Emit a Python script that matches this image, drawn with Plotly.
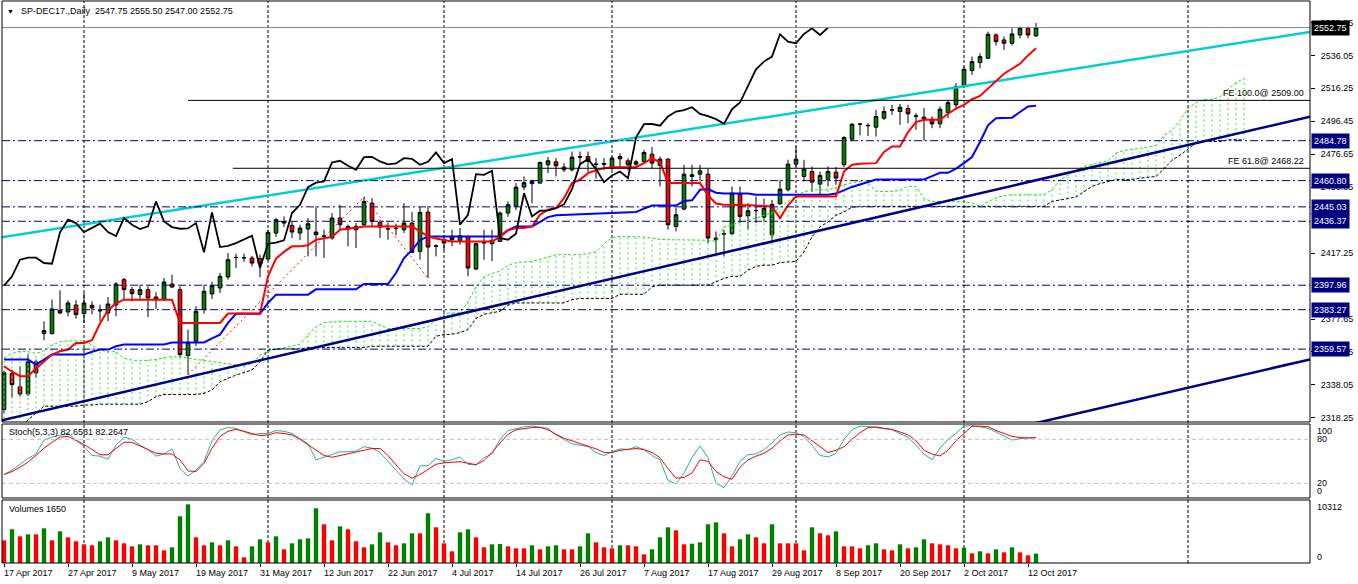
import plotly.graph_objects as go
import pandas as pd

# ---------------- data ----------------
dates = pd.bdate_range("2017-04-17", periods=130)

opens = [2323.3, 2344.9, 2336.9, 2332.7, 2351.9, 2368.9, 2368.9, 2382.9, 2381.9, 2386.1,
         2380.9, 2385.9, 2382.9, 2381.3, 2386.1, 2401.3, 2395.3, 2392.3, 2395.3, 2390.9,
         2389.3, 2398.7, 2395.3, 2355.7, 2364.3, 2383.3, 2392.7, 2396.3, 2402.9, 2414.7,
         2414.3, 2414.3, 2413.9, 2413.7, 2429.3, 2436.3, 2433.9, 2429.3, 2431.7, 2428.3,
         2427.3, 2426.3, 2438.3, 2433.3, 2431.3, 2434.3, 2447.3, 2435.7, 2431.7, 2432.0,
         2431.3, 2435.3, 2418.3, 2441.9, 2421.3, 2425.5, 2427.3, 2424.9, 2427.3, 2407.7,
         2423.3, 2422.9, 2424.3, 2441.3, 2445.3, 2456.9, 2459.0, 2459.3, 2470.3, 2472.1,
         2468.9, 2467.3, 2474.9, 2475.3, 2470.7, 2470.5, 2468.3, 2475.3, 2472.7, 2470.7,
         2472.3, 2476.7, 2469.9, 2473.7, 2433.3, 2443.7, 2463.3, 2464.7, 2464.7, 2426.3,
         2428.7, 2428.9, 2452.7, 2439.7, 2442.7, 2438.9, 2428.3, 2446.9, 2455.3, 2470.7,
         2463.3, 2466.3, 2458.7, 2461.3, 2465.9, 2470.3, 2485.7, 2494.7, 2494.0, 2492.9,
         2498.3, 2503.3, 2502.3, 2504.1, 2499.7, 2498.9, 2497.7, 2494.9, 2501.7, 2506.3,
         2517.3, 2526.9, 2531.7, 2534.3, 2548.3, 2545.3, 2543.3, 2548.3, 2552.3, 2547.75]
highs = [2346.7, 2347.3, 2349.3, 2356.3, 2353.3, 2376.3, 2389.3, 2394.9, 2388.9, 2388.9,
         2393.3, 2388.3, 2386.3, 2390.9, 2399.9, 2402.3, 2396.9, 2398.3, 2397.3, 2393.7,
         2402.3, 2404.3, 2397.3, 2371.3, 2385.3, 2398.3, 2400.0, 2405.3, 2417.3, 2416.9,
         2417.0, 2415.5, 2416.3, 2431.3, 2438.3, 2439.3, 2436.3, 2434.3, 2438.3, 2445.3,
         2431.3, 2441.3, 2446.3, 2434.3, 2435.3, 2451.0, 2450.3, 2437.3, 2435.7, 2434.9,
         2447.3, 2442.0, 2445.0, 2445.5, 2422.5, 2428.0, 2431.3, 2432.3, 2428.0, 2423.5,
         2431.3, 2431.3, 2442.3, 2448.3, 2459.3, 2463.3, 2461.3, 2472.3, 2475.0, 2474.3,
         2471.3, 2478.3, 2478.3, 2478.3, 2474.3, 2474.3, 2475.3, 2477.3, 2474.3, 2473.3,
         2479.3, 2481.0, 2475.3, 2474.3, 2444.3, 2470.3, 2470.3, 2470.3, 2467.9, 2430.3,
         2431.3, 2457.3, 2457.3, 2447.3, 2451.3, 2450.0, 2449.3, 2461.3, 2473.3, 2481.3,
         2473.3, 2469.3, 2466.3, 2469.3, 2469.0, 2487.5, 2495.3, 2495.3, 2495.3, 2503.3,
         2505.3, 2506.3, 2506.9, 2506.3, 2501.3, 2504.3, 2499.3, 2505.3, 2509.3, 2519.3,
         2529.3, 2535.3, 2537.3, 2550.3, 2549.3, 2547.3, 2552.3, 2553.3, 2553.3, 2555.50]
lows = [2320.9, 2330.5, 2331.3, 2331.3, 2342.5, 2364.9, 2368.3, 2380.5, 2379.3, 2377.9,
        2375.3, 2380.5, 2376.3, 2376.3, 2379.3, 2389.3, 2388.3, 2389.3, 2378.9, 2383.7,
        2388.7, 2396.3, 2354.5, 2344.3, 2361.3, 2381.0, 2389.7, 2393.3, 2401.3, 2408.3,
        2412.0, 2409.3, 2402.7, 2412.9, 2427.0, 2432.9, 2426.3, 2425.0, 2415.3, 2415.3,
        2414.3, 2425.3, 2431.3, 2421.3, 2420.3, 2433.3, 2433.3, 2426.3, 2425.3, 2428.0,
        2429.3, 2417.3, 2413.3, 2402.3, 2415.3, 2419.0, 2421.3, 2422.3, 2403.3, 2407.0,
        2413.3, 2412.5, 2424.0, 2439.0, 2443.0, 2455.0, 2447.3, 2459.0, 2465.3, 2463.3,
        2466.0, 2466.3, 2470.0, 2466.0, 2462.0, 2467.0, 2467.3, 2468.3, 2467.0, 2469.0,
        2471.3, 2468.0, 2457.3, 2431.3, 2430.3, 2443.0, 2457.3, 2460.3, 2423.3, 2417.3,
        2415.3, 2428.3, 2435.3, 2431.3, 2435.3, 2436.0, 2424.3, 2446.3, 2454.3, 2469.3,
        2460.3, 2454.0, 2452.3, 2457.3, 2458.3, 2469.0, 2484.5, 2488.0, 2487.5, 2487.3,
        2497.3, 2500.3, 2494.3, 2495.3, 2491.3, 2484.8, 2492.3, 2492.3, 2498.3, 2503.3,
        2516.7, 2524.3, 2528.3, 2533.9, 2541.9, 2539.3, 2542.0, 2546.3, 2546.3, 2547.00]
closes = [2345.5, 2338.3, 2332.7, 2351.9, 2345.3, 2370.7, 2383.7, 2381.3, 2387.3, 2380.3,
          2387.3, 2384.3, 2382.6, 2386.7, 2398.7, 2395.3, 2392.9, 2395.3, 2390.3, 2389.3,
          2399.9, 2396.9, 2356.3, 2363.7, 2382.3, 2394.3, 2397.7, 2403.3, 2413.3, 2414.6,
          2414.5, 2411.3, 2410.9, 2429.7, 2437.3, 2435.3, 2429.9, 2432.3, 2434.9, 2429.9,
          2427.5, 2438.3, 2434.3, 2431.7, 2433.3, 2448.3, 2436.3, 2432.9, 2431.9, 2432.1,
          2435.3, 2417.7, 2441.7, 2420.9, 2421.6, 2423.3, 2425.3, 2427.7, 2408.3, 2422.9,
          2423.6, 2424.9, 2441.3, 2446.3, 2456.9, 2459.6, 2460.3, 2471.7, 2472.7, 2469.7,
          2467.3, 2474.9, 2475.1, 2472.3, 2470.6, 2471.1, 2474.3, 2473.9, 2470.3, 2472.1,
          2477.7, 2471.3, 2473.7, 2434.3, 2440.3, 2464.7, 2464.3, 2466.7, 2426.3, 2425.3,
          2428.9, 2453.3, 2439.3, 2442.7, 2442.9, 2444.3, 2446.5, 2455.7, 2470.7, 2473.7,
          2467.7, 2459.9, 2463.9, 2466.3, 2462.3, 2486.7, 2494.7, 2494.8, 2493.8, 2499.3,
          2502.3, 2503.2, 2504.9, 2500.9, 2499.5, 2497.7, 2494.9, 2503.7, 2507.7, 2517.3,
          2527.7, 2532.3, 2535.3, 2548.7, 2544.3, 2543.3, 2548.9, 2552.3, 2548.3, 2552.75]
volumes = [3985, 5919, 4688, 5040, 5040, 6094, 3985, 5567, 4512, 3809,
           3282, 3106, 3809, 4512, 3985, 3457, 2930, 3282, 3106, 3106,
           2227, 2754, 8204, 10312, 4512, 3106, 3633, 3106, 3985, 2930,
           996, 2930, 4161, 3633, 4688, 2403, 3457, 4161, 4336, 9610,
           6798, 3985, 6446, 5919, 3809, 2754, 3282, 5391, 3633, 3106,
           3457, 5215, 5215, 8731, 6270, 3457, 2051, 5391, 5919, 4512,
           2754, 3282, 3340, 2930, 2578, 2578, 3106, 2403, 2930, 3106,
           2403, 2403, 2930, 5215, 3633, 2754, 2578, 3106, 3106, 2930,
           1524, 2403, 4512, 6270, 5743, 3282, 3399, 3633, 6798, 7149,
           5215, 2930, 4161, 5040, 4512, 3457, 6798, 3457, 3457, 3457,
           2227, 6270, 5215, 4864, 5567, 2930, 2930, 2578, 3106, 3457,
           2403, 2227, 3282, 2578, 2754, 4161, 3457, 3282, 3106, 2578,
           2696, 1699, 2051, 1699, 2403, 1875, 2754, 1875, 1348, 1650]

tenkan = [2349.3, 2346.0, 2343.3, 2343.3, 2348.0, 2352.0, 2356.3, 2358.3, 2359.3, 2363.3,
          2363.3, 2365.0, 2375.0, 2383.0, 2387.0, 2389.3, 2389.3, 2389.3, 2389.3, 2389.3,
          2389.3, 2389.3, 2375.3, 2375.3, 2375.3, 2375.3, 2375.3, 2375.3, 2380.9, 2380.9,
          2380.9, 2380.9, 2380.9, 2403.3, 2414.0, 2418.0, 2421.3, 2421.3, 2422.0, 2425.3,
          2426.0, 2427.0, 2431.3, 2431.8, 2432.5, 2433.3, 2433.3, 2433.3, 2433.3, 2433.3,
          2433.3, 2433.3, 2430.3, 2427.3, 2426.0, 2425.3, 2424.3, 2424.3, 2424.3, 2424.3,
          2424.3, 2424.3, 2427.0, 2431.0, 2432.3, 2432.3, 2433.3, 2440.3, 2443.3, 2444.3,
          2450.3, 2459.3, 2461.3, 2465.3, 2467.0, 2468.3, 2468.9, 2468.9, 2468.9, 2468.9,
          2471.3, 2474.1, 2472.0, 2459.3, 2459.3, 2459.3, 2459.3, 2459.3, 2452.0, 2447.0,
          2446.3, 2446.3, 2446.0, 2446.0, 2445.8, 2445.6, 2445.3, 2438.3, 2446.0, 2451.3,
          2451.3, 2451.3, 2451.3, 2451.3, 2451.3, 2466.3, 2470.3, 2471.0, 2471.0, 2471.3,
          2478.0, 2481.3, 2481.3, 2490.0, 2496.0, 2497.3, 2497.3, 2497.3, 2501.0, 2504.0,
          2506.3, 2509.7, 2511.7, 2516.3, 2521.0, 2525.0, 2528.0, 2531.0, 2536.0, 2540.3]
kijun = [2353.3, 2353.3, 2353.3, 2353.3, 2350.3, 2353.3, 2356.3, 2356.3, 2356.3, 2356.3,
         2356.3, 2358.0, 2359.3, 2359.3, 2361.3, 2362.3, 2362.3, 2362.3, 2362.3, 2362.3,
         2362.3, 2363.6, 2363.6, 2363.6, 2363.6, 2363.6, 2366.0, 2368.3, 2375.3, 2380.8,
         2380.8, 2380.8, 2380.8, 2387.3, 2392.3, 2392.3, 2392.3, 2392.3, 2392.3, 2395.5,
         2395.5, 2395.5, 2395.5, 2395.5, 2395.5, 2398.7, 2398.7, 2398.7, 2398.7, 2405.3,
         2414.3, 2419.0, 2425.0, 2427.3, 2427.3, 2427.3, 2427.3, 2427.3, 2427.3, 2427.3,
         2427.3, 2427.3, 2427.3, 2431.0, 2433.3, 2433.3, 2433.3, 2436.0, 2438.9, 2440.0,
         2440.2, 2440.4, 2440.6, 2440.8, 2441.0, 2441.2, 2441.4, 2441.6, 2441.8, 2442.0,
         2444.0, 2445.8, 2445.8, 2445.8, 2445.8, 2448.5, 2449.0, 2455.3, 2455.7, 2453.5,
         2453.0, 2453.0, 2453.0, 2453.0, 2452.3, 2452.3, 2452.3, 2452.3, 2452.3, 2452.3,
         2452.3, 2452.3, 2452.3, 2452.3, 2453.0, 2455.0, 2457.0, 2458.5, 2460.0, 2461.5,
         2461.5, 2461.5, 2461.5, 2461.5, 2461.5, 2461.5, 2463.5, 2465.5, 2465.5, 2468.0,
         2471.3, 2475.0, 2484.0, 2494.0, 2498.3, 2498.6, 2498.6, 2502.0, 2505.3, 2505.7]
span_a = [2354.3, 2357.0, 2358.3, 2358.0, 2357.0, 2358.5, 2362.0, 2364.0, 2364.5, 2364.5,
          2364.5, 2362.0, 2359.0, 2358.0, 2358.0, 2354.0, 2353.0, 2352.5, 2353.0, 2353.3,
          2354.5, 2355.0, 2355.0, 2354.0, 2353.3, 2352.8, 2352.0, 2351.3, 2350.5, 2350.0,
          2349.3, 2351.0, 2356.0, 2358.3, 2359.3, 2360.5, 2361.5, 2362.5, 2368.0, 2373.0,
          2375.5, 2376.0, 2376.3, 2376.3, 2376.3, 2376.3, 2376.3, 2374.0, 2372.0, 2372.0,
          2372.0, 2372.0, 2372.0, 2373.0, 2377.0, 2381.0, 2381.3, 2381.3, 2388.0, 2397.0,
          2403.0, 2405.0, 2406.3, 2410.0, 2411.5, 2412.0, 2412.3, 2413.5, 2415.0, 2416.3,
          2416.3, 2416.3, 2416.3, 2417.0, 2418.0, 2423.0, 2426.5, 2427.3, 2427.0, 2427.0,
          2426.9, 2426.0, 2425.5, 2425.3, 2425.3, 2425.3, 2425.3, 2425.3, 2425.0, 2424.3,
          2433.0, 2434.3, 2435.5, 2437.0, 2438.3, 2440.0, 2441.5, 2444.5, 2448.5, 2452.0,
          2454.0, 2455.3, 2455.3, 2455.3, 2456.5, 2458.3, 2459.5, 2460.3, 2459.5, 2454.5,
          2454.3, 2454.3, 2455.0, 2457.3, 2457.3, 2450.0, 2448.3, 2448.3, 2448.3, 2448.3,
          2448.0, 2447.5, 2445.3, 2448.0, 2450.5, 2451.8, 2452.3, 2452.3, 2452.3, 2452.3,
          2452.3, 2455.3, 2461.3, 2464.0, 2467.0, 2469.3, 2470.5, 2471.5, 2472.8, 2477.3,
          2479.0, 2479.5, 2480.0, 2480.9, 2482.0, 2488.0, 2491.0, 2497.0, 2504.0, 2507.5,
          2509.7, 2509.7, 2511.0, 2516.0, 2519.5, 2522.3]
span_b = [2312.0, 2312.0, 2312.0, 2317.0, 2321.0, 2325.3, 2325.3, 2325.3, 2325.3, 2325.3,
          2326.0, 2326.0, 2326.5, 2326.5, 2326.5, 2326.5, 2326.5, 2326.5, 2328.0, 2331.0,
          2332.3, 2332.3, 2332.3, 2332.3, 2332.3, 2333.0, 2335.0, 2340.0, 2342.0, 2344.0,
          2345.5, 2347.0, 2352.0, 2359.0, 2359.7, 2359.7, 2359.7, 2359.7, 2360.5, 2360.5,
          2360.5, 2360.5, 2360.5, 2360.5, 2360.5, 2360.5, 2361.3, 2361.3, 2361.3, 2361.3,
          2361.3, 2361.3, 2361.3, 2361.3, 2367.3, 2368.3, 2368.5, 2369.5, 2371.3, 2378.0,
          2380.5, 2381.5, 2382.3, 2386.0, 2387.3, 2387.3, 2387.3, 2387.3, 2387.3, 2387.3,
          2387.3, 2389.3, 2390.0, 2390.0, 2390.0, 2390.0, 2390.0, 2392.5, 2392.5, 2392.5,
          2392.5, 2397.0, 2398.0, 2398.0, 2398.0, 2398.0, 2398.0, 2398.0, 2398.0, 2400.0,
          2402.0, 2403.3, 2403.3, 2407.0, 2409.3, 2410.0, 2410.0, 2411.5, 2412.0, 2412.3,
          2418.0, 2427.0, 2433.0, 2436.0, 2440.0, 2442.0, 2444.9, 2445.3, 2445.3, 2445.3,
          2445.3, 2445.3, 2445.3, 2445.3, 2445.3, 2445.3, 2445.3, 2445.3, 2445.3, 2445.3,
          2445.3, 2445.3, 2445.3, 2445.3, 2445.3, 2445.3, 2445.3, 2445.3, 2445.3, 2445.3,
          2445.3, 2448.3, 2449.0, 2450.0, 2451.0, 2454.0, 2457.3, 2459.0, 2460.3, 2461.5,
          2461.5, 2461.5, 2462.3, 2463.0, 2463.3, 2468.0, 2473.0, 2476.0, 2480.0, 2483.5,
          2484.3, 2484.3, 2484.3, 2485.3, 2485.3, 2485.3]
stoch_k = [32, 38, 46, 54, 60, 79, 83, 86, 88, 79,
           70, 58, 57, 53, 72, 83, 80, 72, 66, 57,
           60, 67, 40, 30, 38, 50, 78, 93, 96, 95,
           91, 86, 88, 88, 92, 91, 88, 81, 74, 52,
           56, 60, 63, 63, 64, 70, 68, 62, 50, 38,
           26, 17.7, 44, 44, 54, 50, 52, 56, 46, 45,
           55, 60, 80, 92, 95, 97, 98, 97, 95, 86,
           80, 74, 72, 70, 62, 58, 63, 67, 66, 70,
           66, 58, 52, 24, 19, 34, 55, 71, 55, 20,
           14, 30, 50, 59, 60, 66, 75, 86, 90, 89,
           84, 72, 58, 56, 61, 80, 93, 98, 97.5, 96,
           94.5, 93, 88, 83, 72, 60, 52, 68, 80, 88,
           98, 98.5, 97, 95, 90, 84, 79, 81, 82, 82.6531]
stoch_d = [32, 36, 42, 49, 58, 68, 76, 83, 84, 79,
           73, 66, 59, 59, 67, 76, 76, 71, 65, 61,
           60, 60, 52, 37, 36, 47, 68, 84, 91, 93.6,
           91, 88, 85, 86, 89, 88, 86, 80, 73, 65,
           58, 55.5, 58, 61, 63, 65, 67.5, 67.5, 58, 45,
           33, 27, 32, 39, 46, 48, 49, 49.5, 47.5, 45.5,
           51, 62, 75, 87, 93, 95, 96, 96.4, 93, 87,
           81.4, 78, 74.5, 70, 67, 62, 62, 65, 66, 67.5,
           66, 62, 55, 40, 27, 28, 34, 52, 50, 36,
           29, 25.5, 42, 52, 57, 61, 68, 78, 86, 87,
           86, 78, 70, 62, 65, 70, 80, 89, 96, 97,
           95, 93.6, 90, 86, 78, 65, 60, 57.3, 65, 78,
           88, 98, 98, 97.3, 92, 88, 84, 82.5, 81.8, 82.2647]

# right-axis price labels that are visible (the others are hidden behind level boxes)
price_ticks = [2318.25, 2338.05, 2357.85, 2377.65, 2417.25,
               2456.85, 2476.65, 2496.45, 2516.25, 2536.05, 2555.85]
level_prices = [2484.78, 2460.80, 2445.03, 2436.37, 2397.96, 2383.27, 2359.57]
last_price = 2552.75
fe_text = ["FE 100.0@ 2509.00", "FE 61.8@ 2468.22"]
fe_price = [2509.00, 2468.22]
fe_start = [23, 28.6]
fib_x = [23, 45, 53]
fib_y = [2344.25, 2451.00, 2402.25]
cyan_pts = [(0, 2427.0), (160, 2547.7)]
navy_pts = [(0, 2317.1), (160, 2495.6)]
navy2_pts = [(130, 2316.3), (160, 2349.8)]
header = "SP-DEC17.,Daily\u00a0\u00a02547.75 2555.50 2547.00 2552.75"
stoch_title = "Stoch(5,3,3) 82.6531 82.2647"
vol_title = "Volumes 1650"

# ---------------- figure ----------------
FONT = "Liberation Sans, Arial, sans-serif"
XMIN, XMAX = -0.25, 163.25
n = len(closes)
X = list(range(n))
fig = go.Figure()

# cloud hatching
hx, hy = [], []
for i, (a, b) in enumerate(zip(span_a, span_b)):
    hx += [i, i, None]
    hy += [b, a, None]
fig.add_trace(go.Scatter(x=hx, y=hy, mode="lines", yaxis="y",
                         line=dict(color="#3BE03B", width=1, dash="2px,3px"), hoverinfo="skip"))
fig.add_trace(go.Scatter(x=list(range(len(span_a))), y=span_a, mode="lines", yaxis="y",
                         line=dict(color="#22DD22", width=1, dash="3px,2px")))
fig.add_trace(go.Scatter(x=list(range(len(span_b))), y=span_b, mode="lines", yaxis="y",
                         line=dict(color="black", width=1, dash="3px,2px")))


def extend(pts, xa, xb):
    (x0, y0), (x1, y1) = pts
    s = (y1 - y0) / (x1 - x0)
    return [xa, xb], [y0 + s * (xa - x0), y0 + s * (xb - x0)]


for pts, col, xa in [(cyan_pts, "#00CED1", XMIN), (navy_pts, "#000080", XMIN), (navy2_pts, "#000080", 120)]:
    lx, ly = extend(pts, xa, XMAX)
    fig.add_trace(go.Scatter(x=lx, y=ly, mode="lines", yaxis="y", line=dict(color=col, width=2.5)))

# fibo connectors
fig.add_trace(go.Scatter(x=fib_x, y=fib_y, mode="lines", yaxis="y",
                         line=dict(color="red", width=1, dash="2px,3px")))

# ichimoku lines
fig.add_trace(go.Scatter(x=X, y=kijun, mode="lines", yaxis="y", line=dict(color="#0000FF", width=2)))
fig.add_trace(go.Scatter(x=X, y=tenkan, mode="lines", yaxis="y", line=dict(color="#FF0000", width=2)))
fig.add_trace(go.Scatter(x=[i - 26 for i in range(26, n)], y=closes[26:], mode="lines", yaxis="y",
                         line=dict(color="black", width=1.8)))

# candles
fig.add_trace(go.Candlestick(x=X, open=opens, high=highs, low=lows, close=closes, yaxis="y",
                             whiskerwidth=0,
                             increasing=dict(fillcolor="#008000", line=dict(color="black", width=1)),
                             decreasing=dict(fillcolor="#FF0000", line=dict(color="black", width=1))))

# stochastic
fig.add_trace(go.Scatter(x=X, y=stoch_k, mode="lines", yaxis="y2", line=dict(color="#20B2AA", width=1)))
fig.add_trace(go.Scatter(x=X, y=stoch_d, mode="lines", yaxis="y2", line=dict(color="#FF0000", width=1)))

# volumes (green when higher than previous bar)
vcol = ["#008000" if i > 0 and volumes[i] > volumes[i - 1] else "#FF0000" for i in range(n)]
fig.add_trace(go.Bar(x=X, y=volumes, yaxis="y3", marker=dict(color=vcol, line=dict(width=0)), width=0.55))

shapes = []
month_starts = [i for i in range(1, n) if dates[i].month != dates[i - 1].month]
future_nov = (n - 1) + (pd.Timestamp("2017-11-01") - dates[-1]).days
for gx in month_starts + [future_nov]:
    shapes.append(dict(type="line", xref="x", yref="paper", x0=gx, x1=gx, y0=0, y1=1,
                       line=dict(color="black", width=1, dash="3px,2px"), layer="below"))
for lp in level_prices:
    shapes.append(dict(type="line", xref="paper", yref="y", x0=0, x1=1, y0=lp, y1=lp,
                       line=dict(color="#000080", width=1, dash="8px,3px,2px,3px")))
shapes.append(dict(type="line", xref="paper", yref="y", x0=0, x1=1, y0=last_price, y1=last_price,
                   line=dict(color="#778899", width=1)))
for fp, fs in zip(fe_price, fe_start):
    shapes.append(dict(type="line", xref="x", yref="y", x0=fs, x1=XMAX, y0=fp, y1=fp,
                       line=dict(color="black", width=1)))
for lv in [80, 20]:
    shapes.append(dict(type="line", xref="paper", yref="y2", x0=0, x1=1, y0=lv, y1=lv,
                       line=dict(color="#C0C0C0", width=1, dash="4px,3px")))
for ax in ["y", "y2", "y3"]:
    shapes.append(dict(type="rect", xref="paper", yref=ax + " domain", x0=0, x1=1, y0=0, y1=1,
                       line=dict(color="black", width=1), fillcolor="rgba(0,0,0,0)"))

ann = []
ann.append(dict(xref="paper", yref="paper", x=0.002, y=1, xanchor="left", yanchor="top", yshift=-5,
                text="\u25bc", showarrow=False, font=dict(size=7, color="black", family=FONT)))
ann.append(dict(xref="paper", yref="paper", x=0.013, y=1, xanchor="left", yanchor="top", yshift=-3,
                text=header, showarrow=False, font=dict(size=9, color="black", family=FONT)))
ann.append(dict(xref="paper", yref="y2 domain", x=0.004, y=1, xanchor="left", yanchor="top", yshift=-1,
                text=stoch_title, showarrow=False, font=dict(size=9, color="black", family=FONT)))
ann.append(dict(xref="paper", yref="y3 domain", x=0.004, y=1, xanchor="left", yanchor="top", yshift=-2,
                text=vol_title, showarrow=False, font=dict(size=9, color="black", family=FONT)))
for lp in level_prices:
    ann.append(dict(xref="paper", yref="y", x=1, y=lp, xanchor="left", yanchor="middle", xshift=1,
                    text=f"{lp:.2f}", showarrow=False, bgcolor="#000080", borderpad=2,
                    font=dict(size=9, color="white", family=FONT)))
ann.append(dict(xref="paper", yref="y", x=1, y=last_price, xanchor="left", yanchor="middle", xshift=1,
                text=f"{last_price:.2f}", showarrow=False, bgcolor="black", borderpad=2,
                font=dict(size=9, color="white", family=FONT)))
for t, fp in zip(fe_text, fe_price):
    ann.append(dict(xref="x", yref="y", x=XMAX - 0.5, y=fp, xanchor="right", yanchor="bottom", yshift=0,
                    text=t, showarrow=False, font=dict(size=9, color="black", family=FONT)))
label_bars = list(range(0, n, 8))
for i in label_bars:
    ann.append(dict(xref="x", yref="paper", x=i, y=0, xanchor="left", yanchor="top", yshift=-3, xshift=-2,
                    text=f"{dates[i].day} {dates[i].strftime('%b %Y')}", showarrow=False,
                    font=dict(size=9, color="black", family=FONT)))

fig.update_layout(
    width=1358, height=584, margin=dict(l=2, r=48, t=1, b=21),
    paper_bgcolor="white", plot_bgcolor="white", showlegend=False, boxgap=0.35,
    font=dict(family=FONT, size=9, color="black"),
    xaxis=dict(domain=[0, 1], range=[XMIN, XMAX], anchor="y3", showgrid=False, zeroline=False,
               tickvals=label_bars, ticks="outside", ticklen=3, tickcolor="black",
               showticklabels=False, rangeslider=dict(visible=False), showline=False),
    yaxis=dict(domain=[0.2509, 1], range=[2315.8, 2568.7], side="right", anchor="x",
               tickvals=price_ticks, ticktext=[f"{v:.2f}" for v in price_ticks],
               ticks="outside", ticklen=4, tickcolor="black", showgrid=False, zeroline=False,
               ticklabelstandoff=4, tickfont=dict(size=9, family=FONT)),
    yaxis2=dict(domain=[0.1157, 0.2473], range=[0, 100.9], side="right", anchor="x",
                tickvals=[91.4, 80, 20, 9.5], ticktext=["100", "80", "20", "0"], ticks="",
                ticklabelstandoff=6, showgrid=False, zeroline=False, tickfont=dict(size=9, family=FONT)),
    yaxis3=dict(domain=[0, 0.1121], range=[0, 11070], side="right", anchor="x",
                tickvals=[9840, 1054], ticktext=["10312", "0"], ticks="",
                ticklabelstandoff=6, showgrid=False, zeroline=False, tickfont=dict(size=9, family=FONT)),
    shapes=shapes, annotations=ann,
)

fig.write_html("out.html", config={"displayModeBar": False},
               post_script="document.body.style.margin='0px';")
